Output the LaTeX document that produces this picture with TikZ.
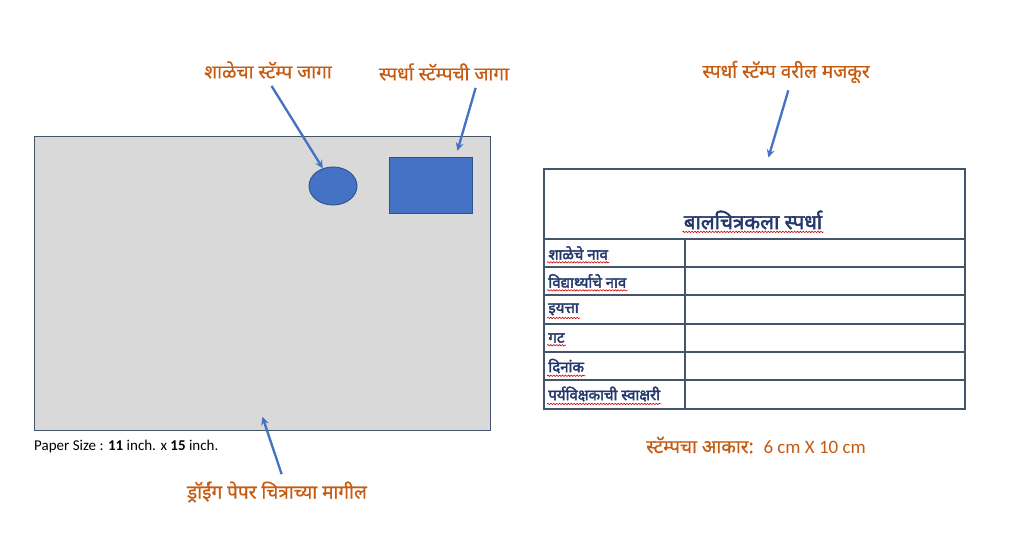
\documentclass[tikz,border=0pt]{standalone}
\usepackage{fontspec}
\setmainfont{Carlito}
\newfontfamily\deva[Script=Devanagari, FakeBold=0.6]{Noto Sans}
\newfontfamily\devabold[Script=Devanagari, FakeBold=2.5]{Noto Sans}
\usepackage{tikz}
\usetikzlibrary{shapes.geometric, arrows, positioning}
\usetikzlibrary{decorations.pathmorphing}
\definecolor{lblorange}{HTML}{C55A11}
\definecolor{arrowblue}{HTML}{4472C4}
\definecolor{stampedge}{HTML}{2F528F}
\definecolor{papergrey}{HTML}{D9D9D9}
\definecolor{paperedge}{HTML}{44546A}
\definecolor{tbledge}{HTML}{44546A}
\definecolor{tbltext}{HTML}{24386B}
\tikzstyle{arrow} = [line width=2pt,->,>=stealth,draw=arrowblue]
\tikzstyle{callout} = [text=lblorange, font=\deva\fontsize{16.2}{18}\selectfont, inner sep=1pt]
\tikzstyle{rowtext} = [anchor=west, text=tbltext, font=\devabold\fontsize{12.8}{14}\selectfont, inner sep=1pt]
\tikzstyle{spell} = [draw=red!80!black, line width=0.5pt, decorate, decoration={snake, amplitude=0.6pt, segment length=2.5pt}]
\tikzstyle{rowline} = [draw=tbledge, line width=1.3pt]

\begin{document}
\begin{tikzpicture}[x=0.03cm, y=-0.03cm]
\useasboundingbox (0,0) rectangle (1024,544);
%----------------------------------------------------------------------------
% Drawing paper
\node (paper) [rectangle, draw=paperedge, fill=papergrey, line width=0.8pt, minimum width=456*0.03cm, minimum height=294*0.03cm, anchor=north west] at (34,136) {};
\node (schoolStamp) [ellipse, draw=stampedge, fill=arrowblue, line width=0.8pt, minimum width=48*0.03cm, minimum height=38*0.03cm] at (333,186) {};
\node (compStamp) [rectangle, draw=stampedge, fill=arrowblue, line width=0.8pt, minimum width=83*0.03cm, minimum height=56*0.03cm] at (430.5,185) {};
\node (paperSize) [anchor=west, font=\fontsize{12.8}{14}\selectfont, inner sep=0pt] at (34,447) {Paper Size : \textbf{11} inch. x \textbf{15} inch.};

% Callouts
\node (schoolLbl) [callout] at (268,70) {शाळेचा स्टॅम्प जागा};
\node (compLbl) [callout] at (444,72) {स्पर्धा स्टॅम्पची जागा};
\node (textLbl) [callout] at (786,72) {स्पर्धा स्टॅम्प वरील मजकूर};
\node (backLbl) [callout] at (277,492) {ड्रॉईंग पेपर चित्राच्या मागील};
\node (sizeLbl) [callout] at (756,445) {स्टॅम्पचा आकार:\ \ {\rmfamily 6 cm X 10 cm}};

%----------------------------------------------------------------------------
% Stamp table
\node (stampTbl) [rectangle, draw=tbledge, line width=1.5pt, minimum width=421*0.03cm, minimum height=240*0.03cm, anchor=north west] at (543,168) {};
\node (tblTitle) [text=tbltext, font=\devabold\fontsize{17.5}{19}\selectfont, inner sep=1pt] at (753,220) {बालचित्रकला स्पर्धा};

\draw [rowline] (543,239) -- (964,239);
\draw [rowline] (543,267) -- (964,267);
\draw [rowline] (543,295) -- (964,295);
\draw [rowline] (543,324) -- (964,324);
\draw [rowline] (543,352) -- (964,352);
\draw [rowline] (543,380) -- (964,380);
\draw [rowline] (685,239) -- (685,408);

\node (rowSchool) [rowtext] at (547,253) {शाळेचे नाव};
\node (rowStudent) [rowtext] at (547,281) {विद्यार्थ्याचे नाव};
\node (rowStd) [rowtext] at (547,309.5) {इयत्ता};
\node (rowGroup) [rowtext] at (547,338) {गट};
\node (rowDate) [rowtext] at (547,366) {दिनांक};
\node (rowSign) [rowtext] at (547,394) {पर्यविक्षकाची स्वाक्षरी};

% spell check marks
\draw [spell] ([yshift=-1pt]tblTitle.south west) -- ([yshift=-1pt]tblTitle.south east);
\draw [spell] ([yshift=-1pt]rowSchool.south west) -- ([yshift=-1pt]rowSchool.south east);
\draw [spell] ([yshift=-1pt]rowStudent.south west) -- ([yshift=-1pt]rowStudent.south east);
\draw [spell] ([yshift=-1pt]rowStd.south west) -- ([yshift=-1pt]rowStd.south east);
\draw [spell] ([yshift=-1pt]rowGroup.south west) -- ([yshift=-1pt]rowGroup.south east);
\draw [spell] ([yshift=-1pt]rowDate.south west) -- ([yshift=-1pt]rowDate.south east);
\draw [spell] ([yshift=-1pt]rowSign.south west) -- ([yshift=-1pt]rowSign.south east);

%----------------------------------------------------------------------------
% Lines
\draw [arrow] ([xshift=3pt,yshift=-5pt]schoolLbl.south) -- (schoolStamp.120);
\draw [arrow] ([xshift=27pt,yshift=-5pt]compLbl.south) -- ([xshift=23pt,yshift=5pt]compStamp.north);
\draw [arrow] ([xshift=2pt,yshift=-5pt]textLbl.south) -- ([xshift=12pt,yshift=9pt]stampTbl.north);
\draw [arrow] ([xshift=4pt,yshift=5pt]backLbl.north) -- ([yshift=12pt]paper.south);

\end{tikzpicture}
\end{document}
